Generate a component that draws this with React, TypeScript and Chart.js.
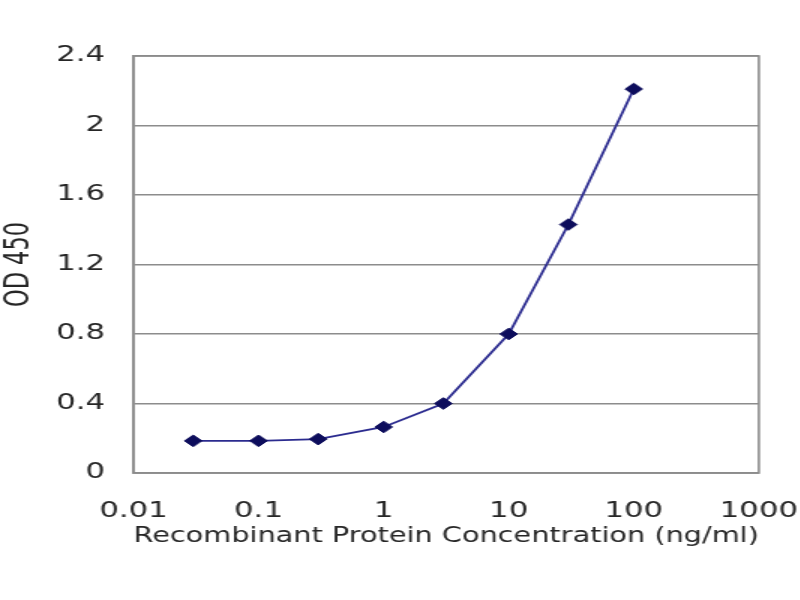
import React, { useEffect, useRef } from "react";
import { Chart, registerables } from "chart.js";

Chart.register(...registerables);

const concentrations = [0.03, 0.1, 0.3, 1, 3, 10, 30, 100];
const od450 = [0.185, 0.185, 0.195, 0.265, 0.4, 0.8, 1.43, 2.21];
const xTickValues = [0.01, 0.1, 1, 10, 100, 1000];
const yTickLabels: Record<string, string> = {
  "0": "0",
  "0.4": "0.4",
  "0.8": "0.8",
  "1.2": "1.2",
  "1.6": "1.6",
  "2": "2",
  "2.4": "2.4",
};

const FONT = "'DejaVu Sans', Verdana, sans-serif";
const TEXT = "#262626";
const GRID = "#8c8c8c";

const borderPlugin = {
  id: "plotBorder",
  afterDraw(chart: any) {
    const { ctx, chartArea } = chart;
    ctx.save();
    ctx.strokeStyle = GRID;
    ctx.lineWidth = 1.6;
    ctx.strokeRect(chartArea.left, chartArea.top, chartArea.right - chartArea.left, chartArea.bottom - chartArea.top);
    ctx.restore();
  },
};

export default function App() {
  const ref = useRef<HTMLCanvasElement | null>(null);
  useEffect(() => {
    if (!ref.current) return;
    const chart = new Chart(ref.current, {
      type: "scatter",
      data: {
        datasets: [
          {
            data: concentrations.map((c, i) => ({ x: c, y: od450[i] })),
            showLine: true,
            borderColor: "#2b2b8f",
            borderWidth: 1.8,
            pointStyle: "rectRot",
            pointRadius: 5.8,
            pointBackgroundColor: "#0d0d5c",
            pointBorderColor: "#0d0d5c",
            pointBorderWidth: 1,
          },
        ],
      },
      options: {
        responsive: false,
        animation: false,
        devicePixelRatio: 1,
        layout: { padding: { top: 56, right: 0, bottom: 0, left: 0 } },
        plugins: { legend: { display: false }, tooltip: { enabled: false } },
        scales: {
          x: {
            type: "logarithmic",
            min: 0.01,
            max: 1000,
            afterBuildTicks: (scale: any) => {
              scale.ticks = xTickValues.map((v) => ({ value: v }));
            },
            afterFit: (scale: any) => {
              scale.height = 127;
            },
            grid: { display: false, drawTicks: false },
            border: { display: true, color: GRID, width: 1.6 },
            ticks: {
              padding: 26,
              color: TEXT,
              font: { family: FONT, size: 20.5 },
              maxRotation: 0,
              autoSkip: false,
              callback: (v: any) => String(v),
            },
            title: {
              display: true,
              text: "Recombinant Protein Concentration (ng/ml)",
              color: TEXT,
              font: { family: FONT, size: 21 },
              padding: { top: 0, bottom: 51 },
            },
          },
          y: {
            min: 0,
            max: 2.4,
            afterFit: (scale: any) => {
              scale.width = 89;
            },
            grid: { color: GRID, lineWidth: 1.6, drawTicks: false },
            border: { display: true, color: GRID, width: 1.6 },
            ticks: {
              stepSize: 0.4,
              padding: 19,
              color: TEXT,
              font: { family: FONT, size: 20.5 },
              callback: (v: any) => yTickLabels[String(Math.round(Number(v) * 10) / 10)] ?? "",
            },
            title: {
              display: true,
              text: "OD 450",
              color: TEXT,
              font: { family: FONT, size: 22.5 },
              padding: { top: 0, bottom: 0 },
            },
          },
        },
      },
      plugins: [borderPlugin],
    } as any);
    return () => chart.destroy();
  }, []);

  return (
    <div style={{ position: "fixed", left: 0, top: 0, width: 800, height: 600, overflow: "hidden", background: "#fff" }}>
      <div style={{ width: 558, height: 600, transform: "scaleX(1.5)", transformOrigin: "0 0" }}>
        <canvas ref={ref} width={558} height={600} style={{ display: "block" }} />
      </div>
    </div>
  );
}
